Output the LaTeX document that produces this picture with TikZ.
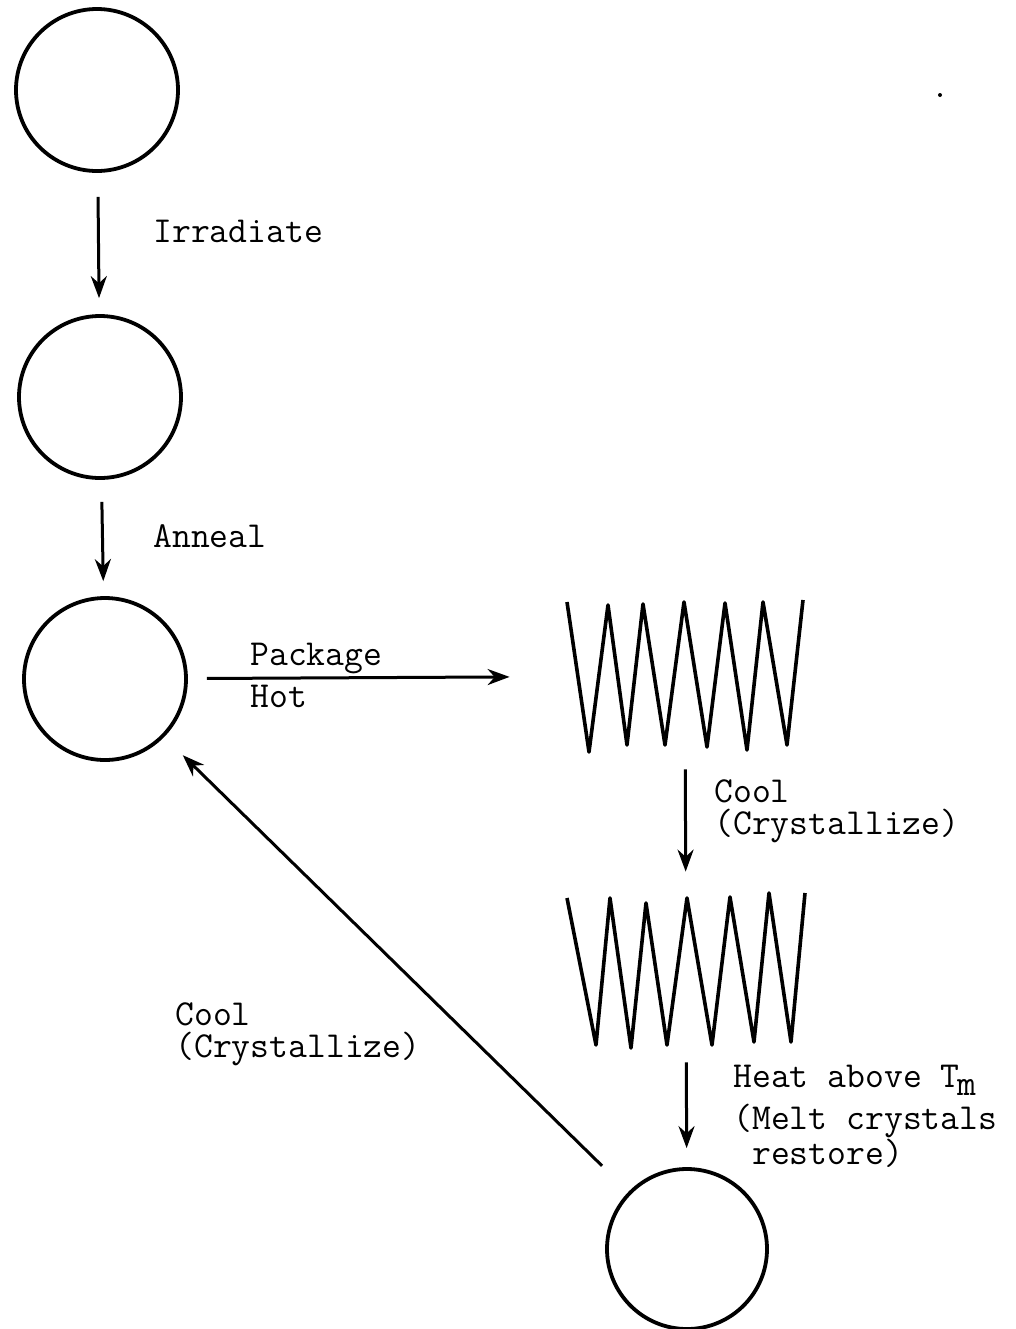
\documentclass[tikz,border=0pt]{standalone}
\usepackage{fontspec}
\usetikzlibrary{arrows.meta}

\tikzset{
  disc/.style={draw,circle,line width=1.9pt,minimum size=81pt,inner sep=0pt},
  coil/.style={minimum width=118pt,minimum height=76pt,inner sep=0pt},
  wire/.style={line width=1.8pt,line join=round},
  lbl/.style={font=\fontsize{18.3}{16}\selectfont\ttfamily,align=left,inner sep=0pt},
  go/.style={line width=1.5pt,-{Stealth[length=11pt,width=8pt]}}
}

\begin{document}
\begin{tikzpicture}[x=0.5pt,y=-0.5pt]
\useasboundingbox (0,0) rectangle (1016,1329);

\node[disc] (c1) at (97,90) {};
\node[disc] (c2) at (100,397) {};
\node[disc] (c3) at (105,679) {};
\node[disc,minimum size=80pt] (c4) at (687,1249) {};
\node[coil] (coilA) at (685,676) {};
\node[coil] (coilB) at (686,970) {};

% folded chains
\draw[wire] (567,602) -- (589,752) -- (608,605) -- (627,745) -- (643,604)
  -- (665,745) -- (684,602) -- (707,747) -- (725,603) -- (747,750)
  -- (763,602) -- (787,745) -- (803,600);
\draw[wire] (567,898) -- (596,1045) -- (610,898) -- (631,1048) -- (646,903)
  -- (667,1045) -- (687,898) -- (712,1045) -- (730,897) -- (754,1042)
  -- (769,893) -- (791,1042) -- (805,893);

\path[go]
  (c1) edge [shorten <=12pt,shorten >=8pt] (c2)
  (c2) edge [shorten <=11pt,shorten >=7.5pt] (c3)
  (c3) edge [shorten <=9.5pt,shorten >=28.5pt] (coilA)
  (coilA) edge [shorten <=8.5pt,shorten >=11pt] (coilB)
  (coilB) edge [shorten <=8pt,shorten >=9.5pt] (c4)
  (c4) edge [shorten <=18.5pt,shorten >=13pt] (c3);

\node[lbl,anchor=base west] (tIrr) at (153,242) {Irradiate};
\node[lbl,anchor=base west] (tAnn) at (153,547) {Anneal};
\node[lbl,anchor=base west] (tPack) at (250,665) {Package};
\node[lbl,anchor=base west] (tHot) at (250,707) {Hot};
\node[lbl,anchor=north west] (tCoolA) at (714,779) {Cool\\(Crystallize)};
\node[lbl,anchor=north west] (tCoolB) at (175,1002) {Cool\\(Crystallize)};
\node[lbl,anchor=north west] (tHeat) at (733,1065)
  {Heat above T\kern-1pt\raisebox{-4pt}{m}\\[3pt](Melt crystals\\\hphantom{(}restore)};

\fill (940,95) circle (1pt);
\end{tikzpicture}
\end{document}
